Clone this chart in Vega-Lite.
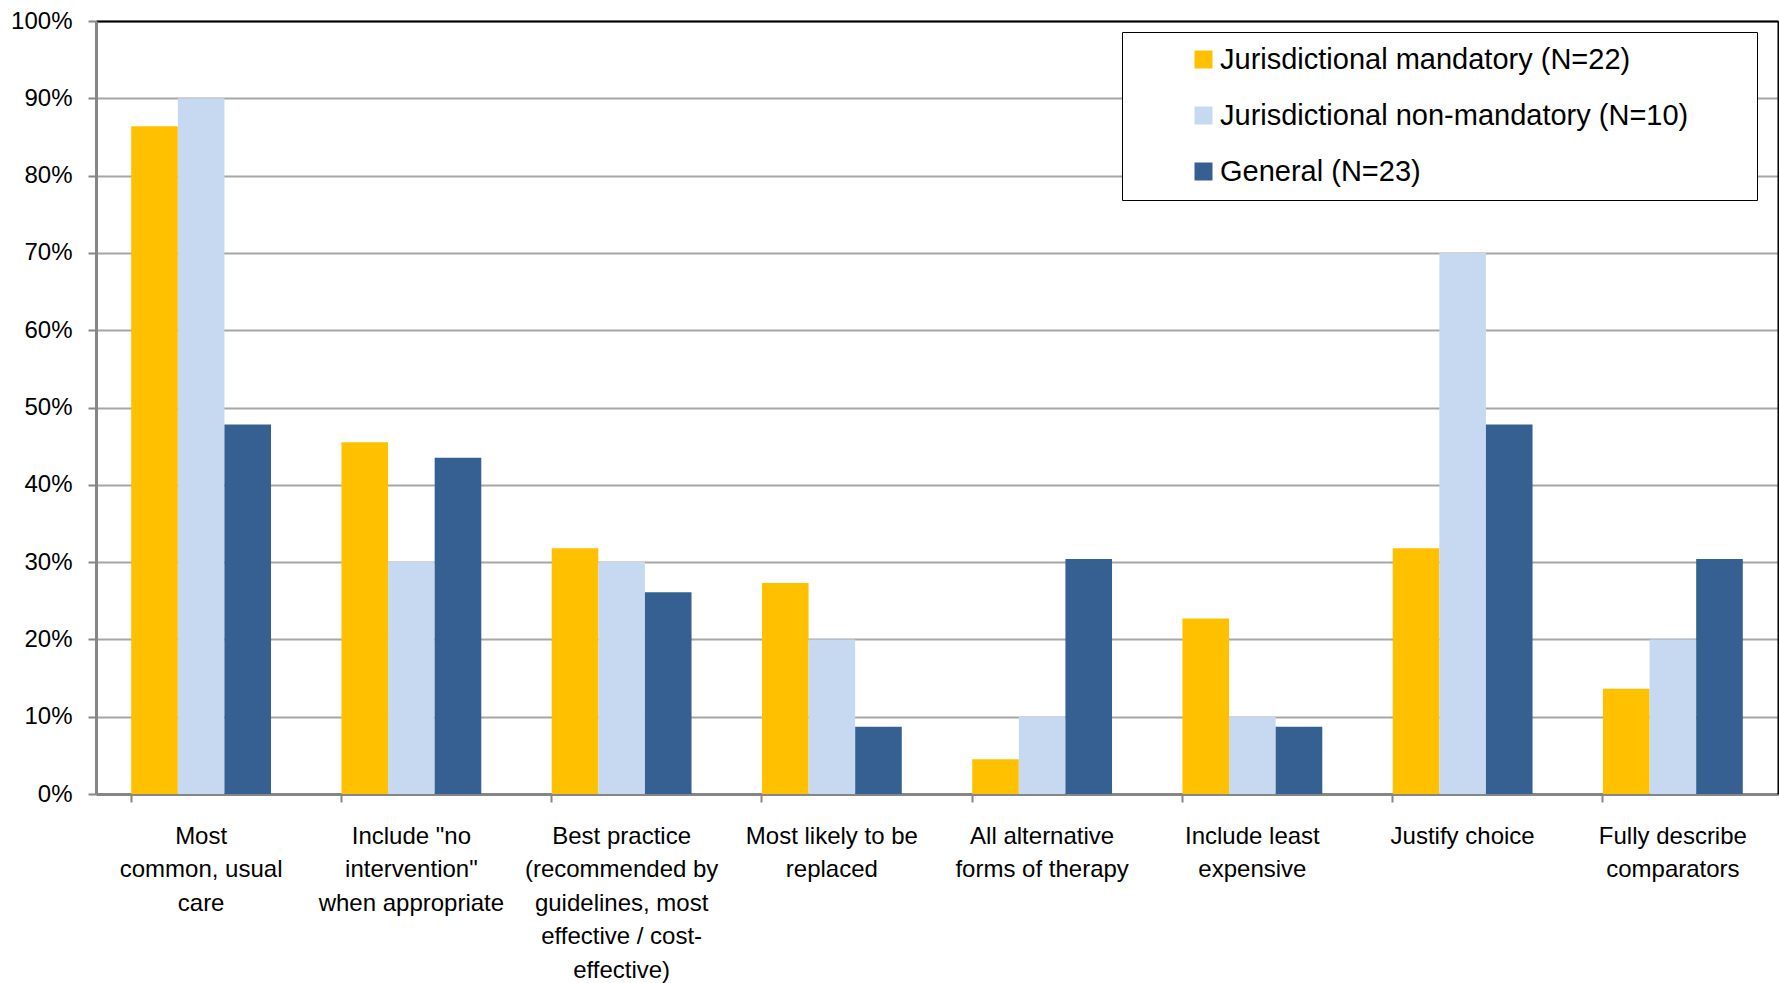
{
  "$schema": "https://vega.github.io/schema/vega-lite/v6.json",
  "autosize": {"type": "none"},
  "padding": {"left": 96, "top": 21, "right": 1, "bottom": 189},
  "width": 1682,
  "height": 773,
  "background": "white",
  "config": {"view": {"stroke": null}, "font": "Liberation Sans"},
  "data": {"values": [
    {"category": "Most|common, usual|care", "group": "Jurisdictional mandatory (N=22)", "value": 0.864},
    {"category": "Most|common, usual|care", "group": "Jurisdictional non-mandatory (N=10)", "value": 0.9},
    {"category": "Most|common, usual|care", "group": "General (N=23)", "value": 0.478},
    {"category": "Include \"no|intervention\"|when appropriate", "group": "Jurisdictional mandatory (N=22)", "value": 0.455},
    {"category": "Include \"no|intervention\"|when appropriate", "group": "Jurisdictional non-mandatory (N=10)", "value": 0.3},
    {"category": "Include \"no|intervention\"|when appropriate", "group": "General (N=23)", "value": 0.435},
    {"category": "Best practice|(recommended by|guidelines, most|effective / cost-|effective)", "group": "Jurisdictional mandatory (N=22)", "value": 0.318},
    {"category": "Best practice|(recommended by|guidelines, most|effective / cost-|effective)", "group": "Jurisdictional non-mandatory (N=10)", "value": 0.3},
    {"category": "Best practice|(recommended by|guidelines, most|effective / cost-|effective)", "group": "General (N=23)", "value": 0.261},
    {"category": "Most likely to be|replaced", "group": "Jurisdictional mandatory (N=22)", "value": 0.273},
    {"category": "Most likely to be|replaced", "group": "Jurisdictional non-mandatory (N=10)", "value": 0.2},
    {"category": "Most likely to be|replaced", "group": "General (N=23)", "value": 0.087},
    {"category": "All alternative|forms of therapy", "group": "Jurisdictional mandatory (N=22)", "value": 0.045},
    {"category": "All alternative|forms of therapy", "group": "Jurisdictional non-mandatory (N=10)", "value": 0.1},
    {"category": "All alternative|forms of therapy", "group": "General (N=23)", "value": 0.304},
    {"category": "Include least|expensive", "group": "Jurisdictional mandatory (N=22)", "value": 0.227},
    {"category": "Include least|expensive", "group": "Jurisdictional non-mandatory (N=10)", "value": 0.1},
    {"category": "Include least|expensive", "group": "General (N=23)", "value": 0.087},
    {"category": "Justify choice", "group": "Jurisdictional mandatory (N=22)", "value": 0.318},
    {"category": "Justify choice", "group": "Jurisdictional non-mandatory (N=10)", "value": 0.7},
    {"category": "Justify choice", "group": "General (N=23)", "value": 0.478},
    {"category": "Fully describe|comparators", "group": "Jurisdictional mandatory (N=22)", "value": 0.136},
    {"category": "Fully describe|comparators", "group": "Jurisdictional non-mandatory (N=10)", "value": 0.2},
    {"category": "Fully describe|comparators", "group": "General (N=23)", "value": 0.304}
  ]},
  "layer": [
    {
      "mark": {"type": "bar"},
      "encoding": {
        "x": {
          "field": "category", "type": "nominal", "sort": null,
          "scale": {"paddingInner": 0.335, "paddingOuter": 0.1675},
          "axis": {
            "title": null, "orient": "bottom", "bandPosition": 0,
            "labelDx": 105, "labelAngle": 0, "labelAlign": "center", "labelBaseline": "top",
            "labelExpr": "split(datum.label, '|')", "labelLineHeight": 33.5,
            "labelFont": "Liberation Sans", "labelFontSize": 24, "labelColor": "black",
            "labelPadding": 22, "labelLimit": 400, "labelOverlap": false, "labelBound": false,
            "tickSize": 8, "tickColor": "#868686", "tickWidth": 2,
            "domainColor": "#868686", "domainWidth": 3, "grid": false
          }
        },
        "xOffset": {
          "field": "group", "type": "nominal",
          "scale": {"domain": ["Jurisdictional mandatory (N=22)", "Jurisdictional non-mandatory (N=10)", "General (N=23)"], "paddingInner": 0, "paddingOuter": 0}
        },
        "y": {
          "field": "value", "type": "quantitative",
          "scale": {"domain": [0, 1], "nice": false},
          "axis": {
            "title": null, "orient": "left", "values": [0, 0.1, 0.2, 0.3, 0.4, 0.5, 0.6, 0.7, 0.8, 0.9, 1.0],
            "format": ".0%", "labelFontSize": 24, "labelColor": "black", "labelPadding": 16,
            "tickSize": 8, "tickColor": "#868686", "tickWidth": 2,
            "domainColor": "#868686", "domainWidth": 3,
            "grid": true, "gridColor": "#A6A6A6", "gridWidth": 2
          }
        },
        "color": {
          "field": "group", "type": "nominal",
          "scale": {
            "domain": ["Jurisdictional mandatory (N=22)", "Jurisdictional non-mandatory (N=10)", "General (N=23)"],
            "range": ["#FFC000", "#C6D9F1", "#376092"]
          },
          "legend": {
            "orient": "none", "legendX": 1026, "legendY": 11,
            "title": " ", "titleOrient": "right", "titlePadding": 56, "titleFontSize": 10,
            "padding": 13, "strokeColor": "black", "fillColor": "white",
            "symbolType": "square", "symbolSize": 324, "symbolStrokeWidth": 0, "symbolOffset": 54,
            "labelOffset": 2, "labelFontSize": 29, "labelColor": "black", "labelLimit": 600,
            "rowPadding": 26
          }
        }
      }
    },
    {
      "mark": {"type": "bar", "opacity": 0},
      "encoding": {
        "x": {
          "field": "category", "type": "nominal", "sort": null,
          "axis": {"orient": "top", "title": null, "labels": false, "ticks": false, "grid": false, "domainColor": "black", "domainWidth": 2}
        },
        "xOffset": {"field": "group", "type": "nominal"},
        "y": {
          "field": "value", "type": "quantitative",
          "axis": {"orient": "right", "title": null, "labels": false, "ticks": false, "grid": false, "domainColor": "black", "domainWidth": 2}
        }
      }
    }
  ],
  "resolve": {"axis": {"x": "independent", "y": "independent"}}
}
